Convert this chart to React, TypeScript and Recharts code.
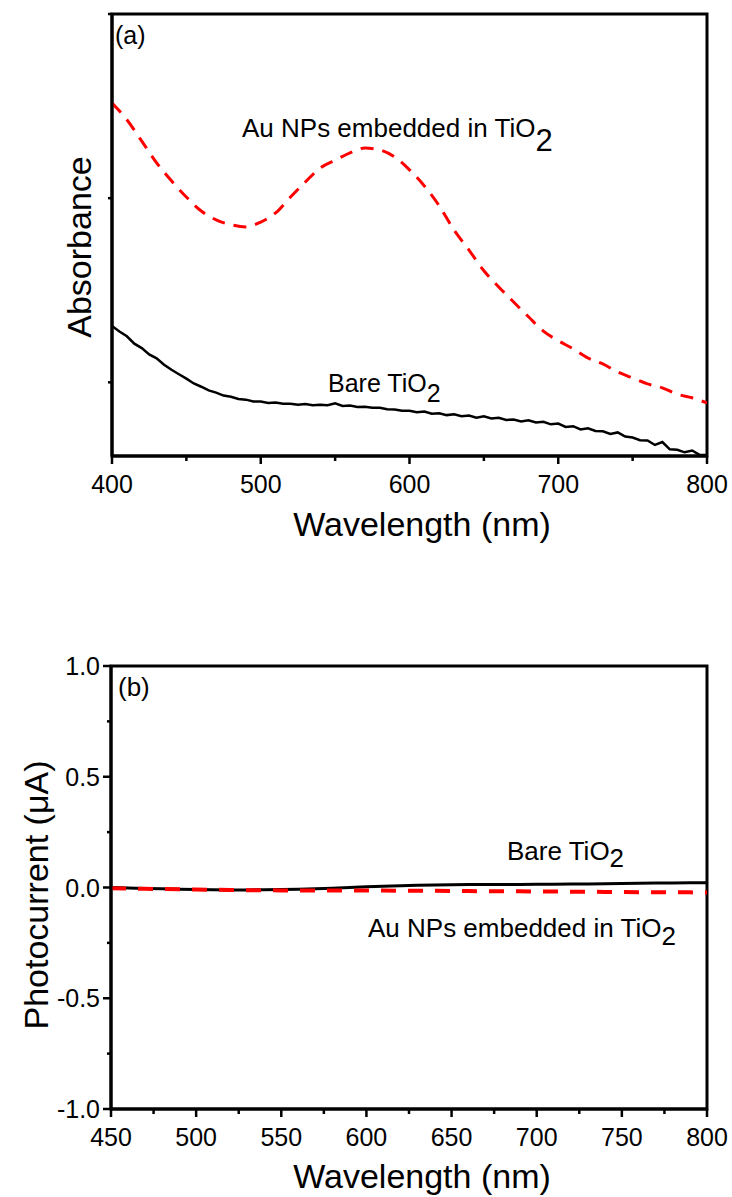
import React from 'react'
import { LineChart, Line, XAxis, YAxis, ReferenceArea } from 'recharts'

const FONT = '"Liberation Sans", Arial, Helvetica, sans-serif'

// (a) absorbance spectra
const absWavelengths = [
  400, 405, 410, 415, 420, 425, 430, 435, 440, 445, 450, 455, 460, 465, 470, 475, 480, 485, 490, 495,
  500, 505, 510, 515, 520, 525, 530, 535, 540, 545, 550, 555, 560, 565, 570, 575, 580, 585, 590, 595,
  600, 605, 610, 615, 620, 625, 630, 635, 640, 645, 650, 655, 660, 665, 670, 675, 680, 685, 690, 695,
  700, 705, 710, 715, 720, 725, 730, 735, 740, 745, 750, 755, 760, 765, 770, 775, 780, 785, 790, 795, 800,
]
const bareAbs = [
  0.353, 0.338, 0.325, 0.305, 0.293, 0.276, 0.265, 0.248, 0.234, 0.222, 0.21, 0.197, 0.188, 0.178, 0.172, 0.164, 0.161, 0.155, 0.153, 0.148,
  0.148, 0.144, 0.145, 0.142, 0.142, 0.139, 0.141, 0.138, 0.139, 0.138, 0.143, 0.136, 0.137, 0.133, 0.134, 0.131, 0.131, 0.127, 0.126, 0.123,
  0.123, 0.119, 0.121, 0.115, 0.116, 0.111, 0.113, 0.108, 0.11, 0.104, 0.108, 0.102, 0.104, 0.098, 0.099, 0.094, 0.097, 0.091, 0.093, 0.086,
  0.088, 0.079, 0.081, 0.072, 0.075, 0.068, 0.067, 0.06, 0.064, 0.053, 0.05, 0.043, 0.042, 0.03, 0.038, 0.018, 0.017, 0.01, 0.015, 0.003, 0.003,
]
const auWavelengths = [
  400, 410, 420, 430, 440, 450, 460, 470, 480, 490, 500, 510, 520, 530, 540, 550, 560, 570, 580, 590,
  600, 610, 620, 630, 640, 650, 660, 670, 680, 690, 700, 710, 720, 730, 740, 750, 760, 770, 780, 790, 800,
]
const auAbs = [
  0.958, 0.913, 0.855, 0.796, 0.747, 0.703, 0.665, 0.641, 0.628, 0.622, 0.635, 0.66, 0.703, 0.744, 0.782, 0.803, 0.823, 0.836, 0.831, 0.812,
  0.777, 0.733, 0.679, 0.613, 0.559, 0.503, 0.459, 0.418, 0.378, 0.339, 0.313, 0.291, 0.266, 0.25, 0.228, 0.212, 0.196, 0.185, 0.168, 0.158, 0.144,
]
const absXTicks = [400, 450, 500, 550, 600, 650, 700, 750, 800]
const absXMajor = [400, 500, 600, 700, 800]
const absYTicks = [0.2, 0.7, 1.2]

// (b) photocurrent
const pcWavelengths = [
  450, 460, 470, 480, 490, 500, 510, 520, 530, 540, 550, 560, 570, 580, 590, 600, 610, 620,
  630, 640, 650, 660, 670, 680, 690, 700, 710, 720, 730, 740, 750, 760, 770, 780, 790, 800,
]
const barePc = [
  0.0, -0.002, -0.004, -0.006, -0.008, -0.009, -0.01, -0.011, -0.011, -0.01, -0.009, -0.008, -0.006, -0.003, 0.0, 0.003, 0.006, 0.008,
  0.01, 0.011, 0.012, 0.013, 0.013, 0.014, 0.014, 0.015, 0.015, 0.016, 0.016, 0.017, 0.018, 0.019, 0.02, 0.02, 0.021, 0.022,
]
const auPc = [
  -0.003, -0.005, -0.006, -0.007, -0.008, -0.009, -0.01, -0.011, -0.012, -0.012, -0.013, -0.013, -0.013, -0.014, -0.014, -0.014, -0.014, -0.015,
  -0.015, -0.015, -0.016, -0.016, -0.017, -0.017, -0.017, -0.018, -0.018, -0.019, -0.019, -0.02, -0.02, -0.021, -0.021, -0.022, -0.022, -0.023,
]
const pcXTicks = [450, 475, 500, 525, 550, 575, 600, 625, 650, 675, 700, 725, 750, 775, 800]
const pcXMajor = [450, 500, 550, 600, 650, 700, 750, 800]
const pcYTicks = [-1, -0.75, -0.5, -0.25, 0, 0.25, 0.5, 0.75, 1]
const pcYMajor = [-1, -0.5, 0, 0.5, 1]

const bareAbsRows = absWavelengths.map((wl, i) => ({ wl, v: bareAbs[i] }))
const auAbsRows = auWavelengths.map((wl, i) => ({ wl, v: auAbs[i] }))
const barePcRows = pcWavelengths.map((wl, i) => ({ wl, v: barePc[i] }))
const auPcRows = pcWavelengths.map((wl, i) => ({ wl, v: auPc[i] }))

// tickSize/tickMargin are 0, so x/y is the point on the axis line
const xTick = (major: number[]) => (props: any) => {
  const { x, y, payload } = props
  const isMajor = major.includes(payload.value)
  return (
    <g>
      <line x1={x} x2={x} y1={y} y2={y + (isMajor ? 8 : 5)} stroke="#000" strokeWidth={2.5} />
      {isMajor && (
        <text x={x} y={y + 37} textAnchor="middle" fontSize={25} fontFamily={FONT} fill="#000">
          {payload.value}
        </text>
      )}
    </g>
  )
}

const yTick = (major: number[], showLabels: boolean) => (props: any) => {
  const { x, y, payload } = props
  const isMajor = major.includes(payload.value)
  return (
    <g>
      <line x1={x - (isMajor ? 8 : 4)} x2={x} y1={y} y2={y} stroke="#000" strokeWidth={2.5} />
      {showLabels && isMajor && (
        <text x={x - 11} y={y + 9} textAnchor="end" fontSize={25} fontFamily={FONT} fill="#000">
          {payload.value.toFixed(1)}
        </text>
      )}
    </g>
  )
}

const textBase: React.CSSProperties = {
  position: 'absolute',
  fontFamily: FONT,
  lineHeight: 1,
  whiteSpace: 'nowrap',
  color: '#000',
}

function Tio2Label({ left, top, size, prefix, subSize, subShift }: any) {
  return (
    <div style={{ ...textBase, left, top, fontSize: size }}>
      {prefix}TiO
      <span style={{ position: 'relative', top: subShift, fontSize: subSize, lineHeight: 0 }}>2</span>
    </div>
  )
}

export default function App() {
  return (
    <div style={{ position: 'absolute', left: 0, top: 0, width: 732, height: 1197, background: '#fff' }}>
      <div style={{ position: 'absolute', left: 0, top: 0 }}>
        <LineChart width={732} height={560} margin={{ top: 14, right: 25, bottom: 0, left: 0 }}>
          <XAxis
            dataKey="wl"
            type="number"
            domain={[400, 800]}
            ticks={absXTicks}
            interval={0}
            height={104}
            tickSize={0}
            tickMargin={0}
            tickLine={false}
            axisLine={{ stroke: '#000', strokeWidth: 3 }}
            tick={xTick(absXMajor)}
            allowDataOverflow
          />
          <YAxis
            type="number"
            domain={[0, 1.2]}
            ticks={absYTicks}
            width={112}
            tickSize={0}
            tickMargin={0}
            tickLine={false}
            axisLine={{ stroke: '#000', strokeWidth: 3 }}
            tick={yTick([], false)}
            allowDataOverflow
          />
          <ReferenceArea x1={400} x2={800} y1={0} y2={1.2} fill="none" stroke="#000" strokeWidth={3} />
          <Line
            data={auAbsRows}
            dataKey="v"
            type="monotone"
            stroke="#ff0000"
            strokeWidth={3}
            strokeDasharray="13 9"
            dot={false}
            isAnimationActive={false}
          />
          <Line
            data={bareAbsRows}
            dataKey="v"
            type="linear"
            stroke="#000"
            strokeWidth={2.5}
            dot={false}
            isAnimationActive={false}
          />
        </LineChart>
      </div>

      <div style={{ position: 'absolute', left: 0, top: 600 }}>
        <LineChart width={732} height={597} margin={{ top: 66, right: 25, bottom: 0, left: 0 }}>
          <XAxis
            dataKey="wl"
            type="number"
            domain={[450, 800]}
            ticks={pcXTicks}
            interval={0}
            height={88}
            tickSize={0}
            tickMargin={0}
            tickLine={false}
            axisLine={{ stroke: '#000', strokeWidth: 3 }}
            tick={xTick(pcXMajor)}
            allowDataOverflow
          />
          <YAxis
            type="number"
            domain={[-1, 1]}
            ticks={pcYTicks}
            interval={0}
            width={111}
            tickSize={0}
            tickMargin={0}
            tickLine={false}
            axisLine={{ stroke: '#000', strokeWidth: 3 }}
            tick={yTick(pcYMajor, true)}
            allowDataOverflow
          />
          <ReferenceArea x1={450} x2={800} y1={-1} y2={1} fill="none" stroke="#000" strokeWidth={3} />
          <Line
            data={barePcRows}
            dataKey="v"
            type="linear"
            stroke="#000"
            strokeWidth={3}
            dot={false}
            isAnimationActive={false}
          />
          <Line
            data={auPcRows}
            dataKey="v"
            type="linear"
            stroke="#ff0000"
            strokeWidth={4}
            strokeDasharray="15 12"
            dot={false}
            isAnimationActive={false}
          />
        </LineChart>
      </div>

      {/* panel (a) text */}
      <div style={{ ...textBase, left: 115, top: 23, fontSize: 25 }}>(a)</div>
      <Tio2Label left={242} top={115} size={26} prefix="Au NPs embedded in " subSize={31} subShift={14} />
      <Tio2Label left={328} top={371} size={25} prefix="Bare " subSize={25} subShift={10} />
      <div style={{ ...textBase, left: 422, top: 507, fontSize: 34, transform: 'translateX(-50%)' }}>
        Wavelength (nm)
      </div>
      <div
        style={{ ...textBase, left: 79, top: 247, fontSize: 34, transform: 'translate(-50%, -50%) rotate(-90deg)' }}
      >
        Absorbance
      </div>

      {/* panel (b) text */}
      <div style={{ ...textBase, left: 118, top: 674, fontSize: 26 }}>(b)</div>
      <Tio2Label left={507} top={838} size={26} prefix="Bare " subSize={26} subShift={7} />
      <Tio2Label left={368} top={915} size={26} prefix="Au NPs embedded in " subSize={26} subShift={8} />
      <div style={{ ...textBase, left: 422, top: 1159, fontSize: 34, transform: 'translateX(-50%)' }}>
        Wavelength (nm)
      </div>
      <div
        style={{ ...textBase, left: 36, top: 895, fontSize: 34, transform: 'translate(-50%, -50%) rotate(-90deg)' }}
      >
        Photocurrent (μA)
      </div>
    </div>
  )
}
